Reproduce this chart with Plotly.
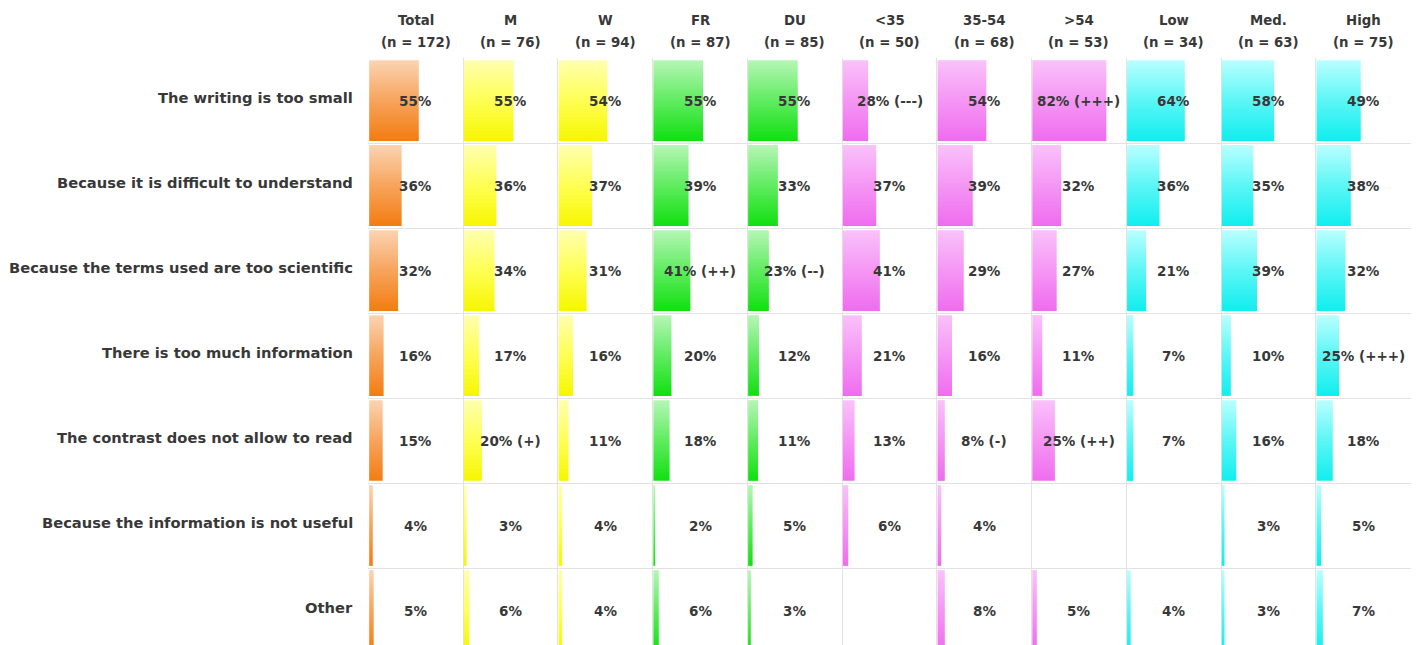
import plotly.graph_objects as go

# Column groups and sample sizes
columns = ["Total", "M", "W", "FR", "DU", "<35", "35-54", ">54", "Low", "Med.", "High"]
sample_sizes = [172, 76, 94, 87, 85, 50, 68, 53, 34, 63, 75]
column_colors = ["orange", "yellow", "yellow", "green", "green",
                 "pink", "pink", "pink", "cyan", "cyan", "cyan"]

# Reasons (rows)
reasons = [
    "The writing is too small",
    "Because it is difficult to understand",
    "Because the terms used are too scientific",
    "There is too much information",
    "The contrast does not allow to read",
    "Because the information is not useful",
    "Other",
]

# Percentages per reason, one value per column (None = no answer)
writing_too_small = [55, 55, 54, 55, 55, 28, 54, 82, 64, 58, 49]
difficult_to_understand = [36, 36, 37, 39, 33, 37, 39, 32, 36, 35, 38]
too_scientific = [32, 34, 31, 41, 23, 41, 29, 27, 21, 39, 32]
too_much_information = [16, 17, 16, 20, 12, 21, 16, 11, 7, 10, 25]
poor_contrast = [15, 20, 11, 18, 11, 13, 8, 25, 7, 16, 18]
not_useful = [4, 3, 4, 2, 5, 6, 4, None, None, 3, 5]
other = [5, 6, 4, 6, 3, None, 8, 5, 4, 3, 7]

# Significance markers per reason
sig_writing_too_small = ["", "", "", "", "", "(---)", "", "(+++)", "", "", ""]
sig_difficult_to_understand = [""] * 11
sig_too_scientific = ["", "", "", "(++)", "(--)", "", "", "", "", "", ""]
sig_too_much_information = ["", "", "", "", "", "", "", "", "", "", "(+++)"]
sig_poor_contrast = ["", "(+)", "", "", "", "", "(-)", "(++)", "", "", ""]
sig_not_useful = [""] * 11
sig_other = [""] * 11

values = [writing_too_small, difficult_to_understand, too_scientific,
          too_much_information, poor_contrast, not_useful, other]
markers = [sig_writing_too_small, sig_difficult_to_understand, sig_too_scientific,
           sig_too_much_information, sig_poor_contrast, sig_not_useful, sig_other]

# Vertical gradients: saturated at the bottom (0) -> light at the top (1)
gradients = {
    "orange": [[0, "#f37c10"], [0.5, "#f7a45c"], [1, "#fbd4b2"]],
    "yellow": [[0, "#f6f600"], [0.5, "#ffff55"], [1, "#ffffb0"]],
    "green": [[0, "#10e010"], [0.5, "#60ec60"], [1, "#b6f6b6"]],
    "pink": [[0, "#ef6cef"], [0.5, "#f596f5"], [1, "#f9c2f9"]],
    "cyan": [[0, "#10eeee"], [0.5, "#5cf6f6"], [1, "#baffff"]],
}

W, H = 1416, 645
TABLE_LEFT, TABLE_RIGHT, TABLE_TOP, ROW_PX = 368, 1411, 58, 85
COL = 105  # axis units per column (1 unit = 1 percentage point)
n_cols = len(columns)
n_rows = len(reasons)

TEXT = "#383838"
FONT = "DejaVu Sans, Verdana, sans-serif"

fig = go.Figure()

for r, (row_vals, row_marks) in enumerate(zip(values, markers)):
    for c, v in enumerate(row_vals):
        if v is None:
            continue
        x0 = c * COL + 0.8
        x1 = x0 + v
        yt, yb = r + 0.025, r + 0.975
        fig.add_trace(go.Scatter(
            x=[x0, x1, x1, x0, x0],
            y=[yt, yt, yb, yb, yt],
            mode="lines",
            line=dict(width=0),
            fill="toself",
            fillgradient=dict(type="vertical", colorscale=gradients[column_colors[c]]),
            hoverinfo="skip",
            showlegend=False,
        ))
        label = f"{v}%" + (f" {row_marks[c]}" if row_marks[c] else "")
        fig.add_annotation(
            x=c * COL + COL / 2, y=r + 0.5, xref="x", yref="y",
            xanchor="center", yanchor="middle",
            text=label, showarrow=False,
            font=dict(family=FONT, size=13.5, color=TEXT, weight=700),
        )

# Row labels
for r, name in enumerate(reasons):
    fig.add_annotation(
        x=355 / W, xref="paper", xanchor="right",
        y=r + 0.46, yref="y", yanchor="middle",
        text=name, showarrow=False,
        font=dict(family=FONT, size=14.7, color=TEXT, weight=700),
    )

# Column headers
for c, (name, n) in enumerate(zip(columns, sample_sizes)):
    fig.add_annotation(
        x=c * COL + COL / 2, xref="x", xanchor="center",
        y=1 - 20 / H, yref="paper", yanchor="middle",
        text=name, showarrow=False,
        font=dict(family=FONT, size=13.3, color=TEXT, weight=700),
    )
    fig.add_annotation(
        x=c * COL + COL / 2, xref="x", xanchor="center",
        y=1 - 43 / H, yref="paper", yanchor="middle",
        text=f"(n = {n})", showarrow=False,
        font=dict(family=FONT, size=13.3, color=TEXT, weight=700),
    )

fig.update_layout(
    width=W, height=H,
    margin=dict(l=0, r=0, t=0, b=0),
    paper_bgcolor="white", plot_bgcolor="white",
    showlegend=False,
    xaxis=dict(
        domain=[TABLE_LEFT / W, TABLE_RIGHT / W],
        range=[-0.5, n_cols * COL + 0.5],
        tickvals=[k * COL for k in range(n_cols + 1)],
        showgrid=True, gridcolor="#e2e2e2", gridwidth=1,
        showticklabels=False, ticks="", zeroline=False, showline=False,
        fixedrange=True,
    ),
    yaxis=dict(
        domain=[0, 1 - TABLE_TOP / H],
        range=[(H - TABLE_TOP) / ROW_PX, 0],
        tickvals=list(range(n_rows + 1)),
        showgrid=True, gridcolor="#e2e2e2", gridwidth=1,
        showticklabels=False, ticks="", zeroline=False, showline=False,
        fixedrange=True,
    ),
)

fig.write_html("out.html")
